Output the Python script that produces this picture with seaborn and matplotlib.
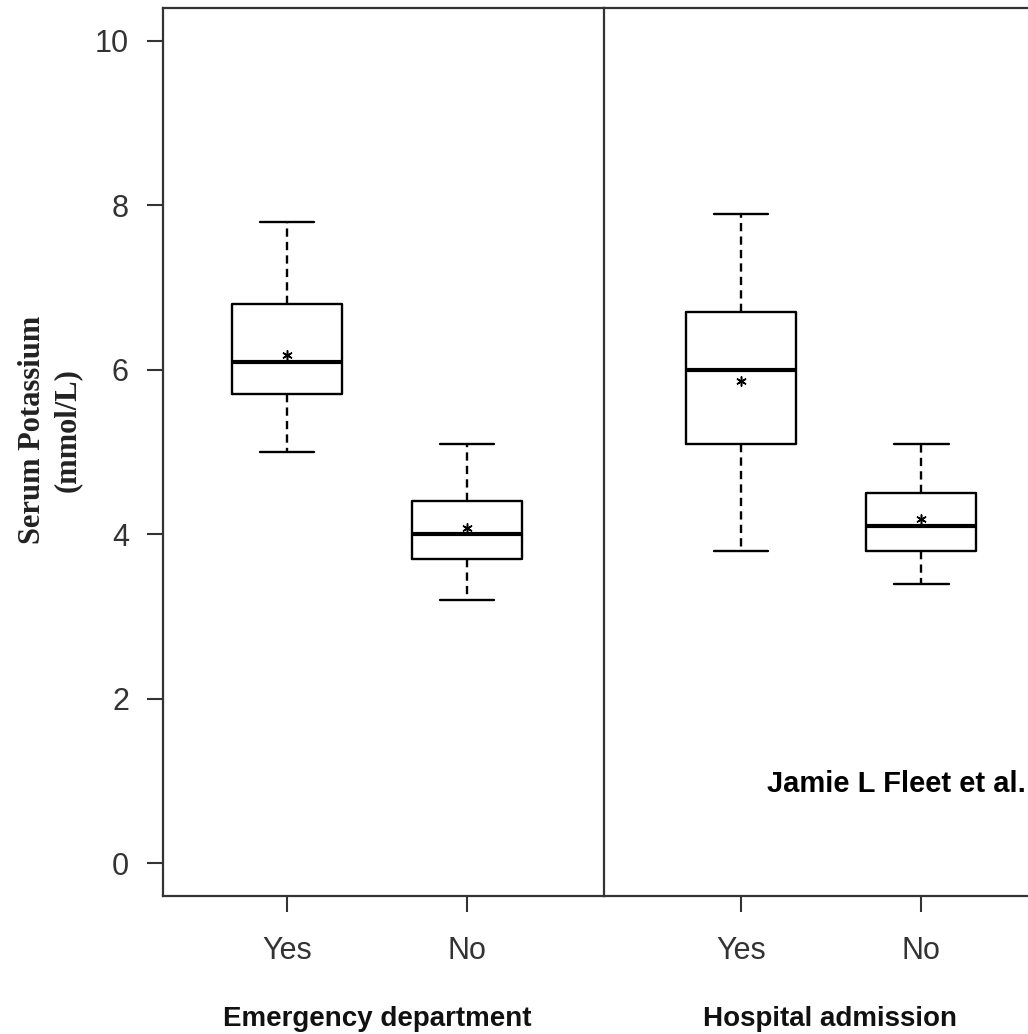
import numpy as np
import pandas as pd
import matplotlib
matplotlib.use("Agg")
import matplotlib.pyplot as plt
import seaborn as sns

# five-number summaries: lower whisker, Q1, median, Q3, upper whisker
groups = ["Yes", "No"]
ed_yes = [5.0, 5.7, 6.1, 6.8, 7.8]
ed_no = [3.2, 3.7, 4.0, 4.4, 5.1]
ha_yes = [3.8, 5.1, 6.0, 6.7, 7.9]
ha_no = [3.4, 3.8, 4.1, 4.5, 5.1]
ed_means = [6.18, 4.08]
ha_means = [5.86, 4.18]

edDF = pd.DataFrame({"grp": ["Yes"] * 5 + ["No"] * 5, "k": ed_yes + ed_no})
haDF = pd.DataFrame({"grp": ["Yes"] * 5 + ["No"] * 5, "k": ha_yes + ha_no})

sns.set_style("ticks")
plt.rcParams["font.family"] = ["Liberation Sans", "DejaVu Sans"]

fig = plt.figure(figsize=(10.28, 10.34), dpi=100)
bot = (1034 - 896) / 1034
hgt = (896 - 8) / 1034
ax1 = fig.add_axes([163 / 1028, bot, 441 / 1028, hgt])
ax2 = fig.add_axes([604 / 1028, bot, 424 / 1028, hgt], sharey=ax1)

spine_col = "#333333"
box_kws = dict(
    order=groups, width=0.61, whis=np.inf, fill=False, color="black",
    linewidth=1.7,
    boxprops=dict(color="black", linewidth=1.7),
    medianprops=dict(color="black", linewidth=3.0),
    whiskerprops=dict(color="black", linewidth=1.7, linestyle=(0, (3.5, 2.2))),
    capprops=dict(color="black", linewidth=1.7),
)

for ax, df, means in [(ax1, edDF, ed_means), (ax2, haDF, ha_means)]:
    sns.boxplot(data=df, x="grp", y="k", ax=ax, **box_kws)
    sns.scatterplot(x=groups, y=means, ax=ax, marker=(6, 2, 0), s=45,
                    color="black", linewidth=1.1, zorder=5)
    ax.set_xlabel("")
    ax.set_ylabel("")
    ax.tick_params(axis="x", length=11.5, width=1.5, color=spine_col, pad=17,
                   labelsize=22, labelcolor="#333333")
    for s in ax.spines.values():
        s.set_linewidth(1.6)
        s.set_color(spine_col)

ax1.set_xlim(-0.689, 1.761)
ax2.set_xlim(-0.761, 1.594)
ax1.set_ylim(-0.4, 10.4)
ax1.set_yticks([0, 2, 4, 6, 8, 10])
ax1.tick_params(axis="y", length=11.5, width=1.5, color=spine_col, pad=13,
                labelsize=22, labelcolor="#333333")
ax1.spines["right"].set_visible(False)
ax2.spines["right"].set_visible(False)
ax2.tick_params(axis="y", left=False, labelleft=False)

fig.text(50 / 1028, 1 - 430 / 1034, "Serum Potassium\n(mmol/L)",
         rotation=90, ha="center", va="center", multialignment="center",
         fontsize=22, fontweight="bold", family=["Liberation Serif", "DejaVu Serif"],
         color="#222222", linespacing=1.25)

fig.text(377 / 1028, 1 - 1019 / 1034, "Emergency department", ha="center",
         va="center", fontsize=20, fontweight="bold", color="#111111")
fig.text(830 / 1028, 1 - 1019 / 1034, "Hospital admission", ha="center",
         va="center", fontsize=20, fontweight="bold", color="#111111")
fig.text(1026 / 1028, 1 - 792 / 1034, "Jamie L Fleet et al.", ha="right",
         va="baseline", fontsize=21, fontweight="bold", color="black")

fig.savefig("out.png", dpi=100, facecolor="white")
